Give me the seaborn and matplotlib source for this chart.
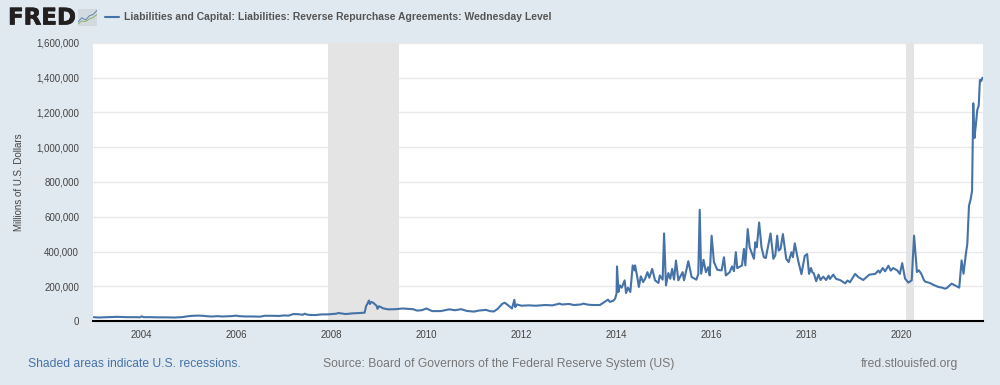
import pandas as pd
import matplotlib
matplotlib.use('Agg')
import matplotlib.pyplot as plt
import matplotlib.patheffects as pe
import seaborn as sns

# values: decimal year, thousands of millions of dollars
years_early = [2003.0, 2003.1, 2003.2, 2003.3, 2003.4, 2003.5, 2003.6, 2003.7, 2003.8, 2003.9, 2003.97, 2004.01, 2004.05,
               2004.2, 2004.35, 2004.5, 2004.7, 2004.85, 2005.0, 2005.1, 2005.2, 2005.3, 2005.4, 2005.5, 2005.6, 2005.7,
               2005.8, 2005.9, 2006.0, 2006.05, 2006.2, 2006.35, 2006.5, 2006.6, 2006.75, 2006.9, 2007.0, 2007.1, 2007.2,
               2007.3, 2007.4, 2007.44, 2007.5, 2007.65, 2007.8, 2007.92, 2008.1, 2008.15, 2008.3, 2008.45, 2008.6,
               2008.7, 2008.73, 2008.76, 2008.79, 2008.81, 2008.84, 2008.88, 2008.92, 2008.95, 2008.97, 2009.0, 2009.1,
               2009.2, 2009.35, 2009.5, 2009.6, 2009.72, 2009.8, 2009.9, 2010.0, 2010.05, 2010.12, 2010.3, 2010.48,
               2010.6, 2010.73, 2010.85, 2011.0, 2011.1, 2011.25, 2011.35, 2011.42, 2011.5, 2011.6, 2011.65, 2011.72,
               2011.8, 2011.85, 2011.87, 2011.9, 2012.0, 2012.15, 2012.3, 2012.5, 2012.65, 2012.8, 2012.85, 2013.0,
               2013.1, 2013.25, 2013.3, 2013.4, 2013.5, 2013.65]
values_early = [22, 20, 21, 22, 23, 24, 23, 22, 22, 22, 21, 27, 22,
                22, 21, 21, 20, 22, 28, 30, 31, 30, 27, 26, 28, 26,
                27, 28, 31, 28, 26, 26, 25, 30, 30, 29, 32, 31, 40,
                39, 36, 42, 36, 34, 38, 38, 42, 46, 40, 44, 46,
                48, 85, 100, 118, 98, 110, 105, 95, 88, 70, 85, 72,
                67, 68, 72, 70, 68, 60, 62, 72, 66, 57, 57, 67,
                62, 68, 58, 54, 60, 64, 56, 55, 70, 100, 105, 90,
                72, 122, 80, 95, 88, 90, 88, 92, 90, 100, 95, 98,
                92, 95, 100, 94, 92, 92]

years_mid = [2013.82, 2013.86, 2013.93, 2013.97, 2014.0, 2014.01, 2014.04, 2014.07, 2014.11, 2014.17, 2014.2,
             2014.24, 2014.29, 2014.34, 2014.38, 2014.39, 2014.43, 2014.47, 2014.51, 2014.56, 2014.6, 2014.65,
             2014.69, 2014.75, 2014.81, 2014.88, 2014.91, 2014.97, 2015.0, 2015.04, 2015.09, 2015.13, 2015.17,
             2015.21, 2015.25, 2015.3, 2015.39, 2015.42, 2015.51, 2015.58, 2015.68, 2015.72, 2015.75, 2015.78,
             2015.83, 2015.88, 2015.93, 2015.96, 2016.0, 2016.05, 2016.12, 2016.21, 2016.26, 2016.3, 2016.38,
             2016.43, 2016.47, 2016.51, 2016.54, 2016.64, 2016.68, 2016.71, 2016.76, 2016.8, 2016.89, 2016.92,
             2016.95, 2017.0, 2017.05, 2017.1, 2017.14, 2017.24, 2017.3, 2017.34, 2017.38, 2017.41, 2017.45,
             2017.5, 2017.57, 2017.62, 2017.68, 2017.71, 2017.75, 2017.82, 2017.89]
values_mid = [123, 110, 116, 129, 158, 314, 167, 205, 192, 234, 161,
              192, 167, 320, 291, 320, 262, 196, 257, 224, 243, 281,
              249, 300, 234, 219, 262, 238, 504, 205, 276, 243, 300,
              238, 348, 234, 281, 234, 344, 253, 238, 270, 640, 272,
              352, 281, 310, 262, 491, 338, 295, 291, 367, 262, 281,
              314, 287, 396, 304, 320, 415, 320, 529, 424, 358, 453,
              424, 567, 424, 367, 362, 504, 358, 378, 491, 405, 415,
              500, 358, 339, 396, 367, 447, 348, 270]

years_late = [2017.96, 2018.01, 2018.05, 2018.09, 2018.12, 2018.15, 2018.2, 2018.25, 2018.29, 2018.35, 2018.41, 2018.46,
              2018.49, 2018.56, 2018.62, 2018.7, 2018.81, 2018.86, 2018.91, 2019.02, 2019.09, 2019.19, 2019.32, 2019.44,
              2019.51, 2019.54, 2019.6, 2019.65, 2019.72, 2019.77, 2019.82, 2019.91, 2019.96, 2020.01, 2020.07, 2020.14,
              2020.21, 2020.26, 2020.32, 2020.36, 2020.41, 2020.47, 2020.5, 2020.59, 2020.65, 2020.77, 2020.85, 2020.91,
              2020.95, 2021.05, 2021.12, 2021.21, 2021.26, 2021.3, 2021.35, 2021.38, 2021.415, 2021.45, 2021.48, 2021.505,
              2021.53, 2021.56, 2021.59, 2021.62, 2021.645, 2021.67, 2021.7]
values_late = [375, 385, 271, 305, 280, 275, 229, 267, 236, 255, 236, 261,
               242, 267, 242, 236, 217, 233, 223, 271, 252, 236, 267, 271,
               290, 278, 305, 286, 318, 290, 305, 290, 271, 333, 244, 221,
               234, 491, 282, 292, 272, 234, 226, 219, 210, 196, 192, 186,
               190, 215, 205, 192, 349, 272, 387, 444, 663, 701, 749, 1253,
               1053, 1130, 1215, 1240, 1387, 1380, 1400]

recessions = [(2007.92, 2009.42), (2020.09, 2020.26)]
y_ticks = [0, 200000, 400000, 600000, 800000, 1000000, 1200000, 1400000, 1600000]
x_ticks = [2004, 2006, 2008, 2010, 2012, 2014, 2016, 2018, 2020]
icon_x = [0, 1, 2, 3, 4, 5]
icon_blue = [1.2, 2.4, 1.8, 3.0, 3.4, 4.6]
icon_green = [0.6, 1.5, 1.3, 2.1, 2.5, 3.4]

df = pd.DataFrame({'year': years_early + years_mid + years_late,
                   'value': [v * 1000 for v in values_early + values_mid + values_late]})

sns.set_style('white')
plt.rcParams['font.family'] = ['Liberation Sans', 'DejaVu Sans']

bg = '#e1e9f0'
blue = '#4572a7'

fig = plt.figure(figsize=(10, 3.85), dpi=100, facecolor=bg)
ax = fig.add_axes([93 / 1000, 1 - 321 / 385, 890 / 1000, 278 / 385], facecolor='white')

for start, end in recessions:
    ax.axvspan(start, end, color='#e4e4e4', lw=0, zorder=2)

sns.lineplot(data=df, x='year', y='value', color=blue, lw=1.5, estimator=None, ax=ax, zorder=3)

ax.set_xlim(2002.985, 2021.71)
ax.set_ylim(0, 1600000)
ax.set_xticks(x_ticks)
ax.set_xticklabels([str(x) for x in x_ticks], fontsize=7, color='#444444')
ax.set_yticks(y_ticks)
ax.set_yticklabels([f'{y:,}' for y in y_ticks], fontsize=7, color='#444444')
ax.grid(axis='y', color='#e9e9e9', lw=1)
ax.set_axisbelow(True)
ax.tick_params(axis='x', length=5, width=0.8, color='#c0d0e0', pad=1.5)
ax.tick_params(axis='y', length=0, pad=10)
ax.set_xlabel('')
ax.set_ylabel('Millions of U.S. Dollars', fontsize=7, color='#444444')
ax.yaxis.set_label_coords(-0.0779, 0.5)
for side in ['top', 'right', 'left']:
    ax.spines[side].set_visible(False)
ax.spines['bottom'].set_color('black')
ax.spines['bottom'].set_linewidth(1.5)

# header
fig.text(8 / 1000, 1 - 18 / 385, 'FRED', fontsize=16.5, fontweight='bold', family='DejaVu Sans', color='#231f20',
         va='center', path_effects=[pe.withStroke(linewidth=0.5, foreground='#231f20')])
fig.text(124 / 1000, 1 - 17 / 385, 'Liabilities and Capital: Liabilities: Reverse Repurchase Agreements: Wednesday Level',
         fontsize=7.45, fontweight='bold', color='#555555', va='center')
fig.add_artist(plt.Line2D([105 / 1000, 119 / 1000], [1 - 17 / 385] * 2, color=blue, lw=1.5))

icon = fig.add_axes([78 / 1000, 1 - 26 / 385, 19 / 1000, 17 / 385], facecolor='#d3dadf')
icon.plot(icon_x, icon_blue, color='#5b86b5', lw=0.7)
icon.plot(icon_x, icon_green, color='#8fae6a', lw=0.7)
icon.set_xlim(0, 5)
icon.set_ylim(0, 5)
icon.set_xticks([])
icon.set_yticks([])
for side in icon.spines:
    icon.spines[side].set_visible(False)

# footer
fig.text(28 / 1000, 1 - 364 / 385, 'Shaded areas indicate U.S. recessions.', fontsize=8.7, color=blue, va='center')
fig.text(323 / 1000, 1 - 364 / 385, 'Source: Board of Governors of the Federal Reserve System (US)', fontsize=8.7,
         color='#777777', va='center')
fig.text(861 / 1000, 1 - 364 / 385, 'fred.stlouisfed.org', fontsize=8.7, color='#777777', va='center')

fig.savefig('out.png', dpi=100, facecolor=bg)
